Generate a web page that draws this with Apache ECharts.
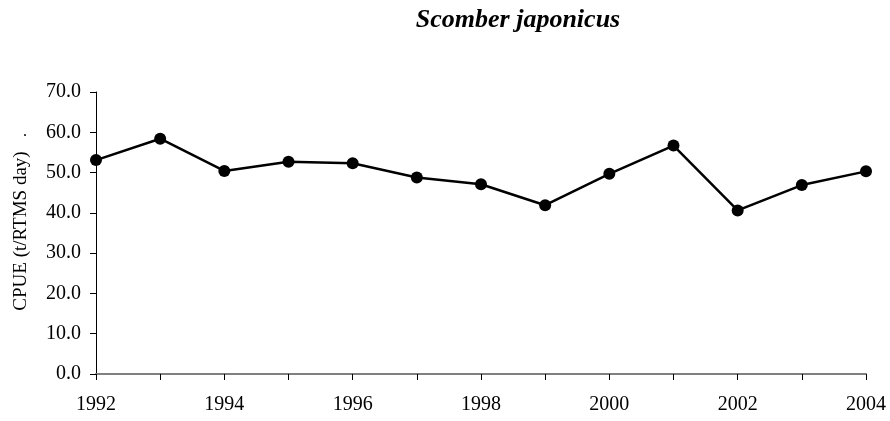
<!DOCTYPE html>
<html>
<head>
<meta charset="utf-8">
<script src="https://cdn.jsdelivr.net/npm/echarts@6/dist/echarts.min.js"></script>
<style>
  html, body { margin: 0; padding: 0; background: #fff; }
  #chart { width: 890px; height: 421px; }
</style>
</head>
<body>
<div id="chart"></div>
<script>
// Catch per unit effort, chub mackerel
const years = [1992, 1993, 1994, 1995, 1996, 1997, 1998, 1999, 2000, 2001, 2002, 2003, 2004];
const cpue = [53.1, 58.4, 50.4, 52.7, 52.3, 48.8, 47.1, 41.9, 49.7, 56.7, 40.6, 46.9, 50.3];
const yTicks = { min: 0, max: 70, step: 10 };

const FONT = '"Liberation Serif", "DejaVu Serif", serif';
const chart = echarts.init(document.getElementById('chart'));

chart.setOption({
  animation: false,
  backgroundColor: '#fff',
  title: {
    text: 'Scomber japonicus',
    left: 513,
    top: 2,
    textAlign: 'center',
    textStyle: { fontFamily: FONT, fontSize: 26, fontWeight: 'bold', fontStyle: 'italic', color: '#000' }
  },
  grid: { left: 96, right: 24, top: 92, bottom: 47, containLabel: false },
  xAxis: {
    type: 'value',
    min: years[0],
    max: years[years.length - 1],
    interval: 1,
    splitLine: { show: false },
    axisLine: { lineStyle: { color: '#808080', width: 2 } },
    axisTick: { length: 6, lineStyle: { color: '#000', width: 1 } },
    axisLabel: {
      margin: 21,
      fontFamily: FONT, fontSize: 20, color: '#000',
      formatter: v => (v % 2 === 0 ? String(v) : '')
    }
  },
  yAxis: {
    type: 'value',
    min: yTicks.min,
    max: yTicks.max,
    interval: yTicks.step,
    splitLine: { show: false },
    axisLine: { show: true, lineStyle: { color: '#000', width: 1 } },
    axisTick: { show: true, length: 6, lineStyle: { color: '#000' } },
    axisLabel: {
      margin: 15,
      fontFamily: FONT, fontSize: 20, color: '#000',
      formatter: v => v.toFixed(1)
    }
  },
  graphic: [
    {
      type: 'text',
      x: 21, y: 231,
      rotation: Math.PI / 2,
      style: {
        text: 'CPUE (t/RTMS day)',
        font: '19px ' + FONT,
        fill: '#000',
        align: 'center',
        verticalAlign: 'middle'
      }
    },
    {
      type: 'text',
      x: 25, y: 124,
      style: { text: '.', font: '16px ' + FONT, fill: '#000', align: 'center' }
    }
  ],
  series: [{
    type: 'line',
    data: years.map((y, i) => [y, cpue[i]]),
    symbol: 'circle',
    symbolSize: 12,
    lineStyle: { color: '#000', width: 2.5 },
    itemStyle: { color: '#000' }
  }]
});
</script>
</body>
</html>
